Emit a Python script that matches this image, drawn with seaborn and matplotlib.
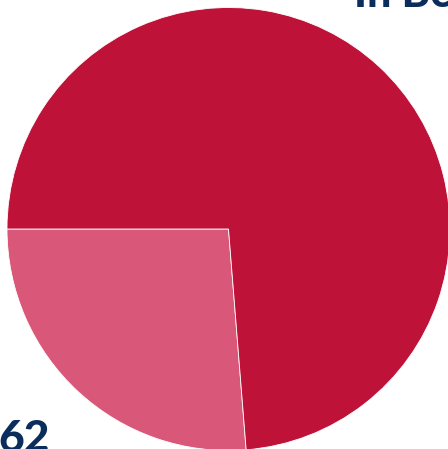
import matplotlib
matplotlib.use("Agg")
import matplotlib.pyplot as plt
import seaborn as sns

# Share of responses by group
labels = ["Minority", "Majority"]
values = [62, 174]
colors = ["#D9587A", "#BE1238"]

sns.set_theme(style="white")
plt.rcParams["font.family"] = ["Lato", "DejaVu Sans"]

W, H = 448, 449
fig = plt.figure(figsize=(W / 100, H / 100), dpi=100)
fig.patch.set_facecolor("white")

cx, cy, r = 228.5, 229, 221.5
ax = fig.add_axes([(cx - r) / W, (H - cy - r) / H, 2 * r / W, 2 * r / H])
ax.pie(values, colors=colors, startangle=180, counterclock=True,
       radius=1, wedgeprops=dict(edgecolor="white", linewidth=0.6))
ax.set_xlim(-1, 1)
ax.set_ylim(-1, 1)
ax.set_aspect("auto")
ax.axis("off")

navy = "#0B2D5B"
fig.text(354 / W, (H - 7) / H, "In Be", color=navy, fontsize=31,
         fontweight="black", ha="left", va="baseline")
fig.text(-2 / W, -3 / H, "62", color=navy, fontsize=32,
         fontweight="black", ha="left", va="baseline")

fig.savefig("out.png", dpi=100)
